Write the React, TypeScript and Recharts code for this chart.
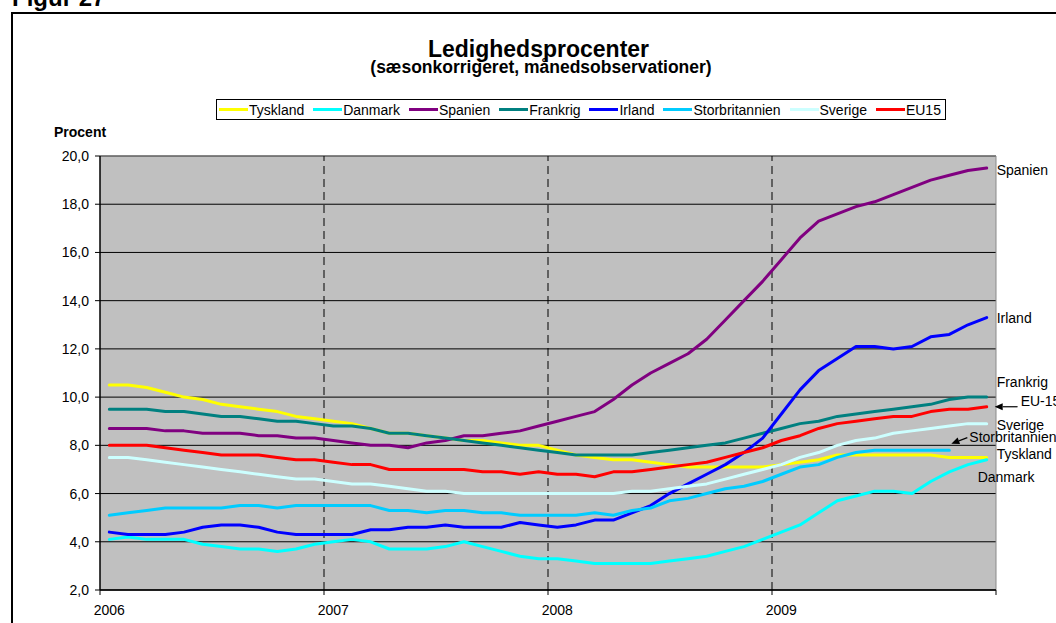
import React from 'react';
import { LineChart, Line, XAxis, YAxis, CartesianGrid, ReferenceLine, ReferenceDot } from 'recharts';

const FONT = '"Liberation Sans", Arial, Helvetica, sans-serif';

const years = ['2006', '2007', '2008', '2009'];
const yTicks = [2, 4, 6, 8, 10, 12, 14, 16, 18, 20];
const yearBoundaries = [0, 12, 24, 36, 48];

const tyskland = [10.5, 10.5, 10.4, 10.2, 10.0, 9.9, 9.7, 9.6, 9.5, 9.4, 9.2, 9.1, 9.0, 8.9, 8.7, 8.5, 8.5, 8.4, 8.3, 8.2, 8.2, 8.1, 8.0, 8.0, 7.8, 7.6, 7.5, 7.4, 7.4, 7.3, 7.2, 7.1, 7.1, 7.1, 7.1, 7.1, 7.2, 7.3, 7.4, 7.6, 7.6, 7.6, 7.6, 7.6, 7.6, 7.5, 7.5, 7.5];
const danmark = [4.1, 4.2, 4.1, 4.1, 4.1, 3.9, 3.8, 3.7, 3.7, 3.6, 3.7, 3.9, 4.0, 4.1, 4.0, 3.7, 3.7, 3.7, 3.8, 4.0, 3.8, 3.6, 3.4, 3.3, 3.3, 3.2, 3.1, 3.1, 3.1, 3.1, 3.2, 3.3, 3.4, 3.6, 3.8, 4.1, 4.4, 4.7, 5.2, 5.7, 5.9, 6.1, 6.1, 6.0, 6.5, 6.9, 7.2, 7.4];
const spanien = [8.7, 8.7, 8.7, 8.6, 8.6, 8.5, 8.5, 8.5, 8.4, 8.4, 8.3, 8.3, 8.2, 8.1, 8.0, 8.0, 7.9, 8.1, 8.2, 8.4, 8.4, 8.5, 8.6, 8.8, 9.0, 9.2, 9.4, 9.9, 10.5, 11.0, 11.4, 11.8, 12.4, 13.2, 14.0, 14.8, 15.7, 16.6, 17.3, 17.6, 17.9, 18.1, 18.4, 18.7, 19.0, 19.2, 19.4, 19.5];
const frankrig = [9.5, 9.5, 9.5, 9.4, 9.4, 9.3, 9.2, 9.2, 9.1, 9.0, 9.0, 8.9, 8.8, 8.8, 8.7, 8.5, 8.5, 8.4, 8.3, 8.2, 8.1, 8.0, 7.9, 7.8, 7.7, 7.6, 7.6, 7.6, 7.6, 7.7, 7.8, 7.9, 8.0, 8.1, 8.3, 8.5, 8.7, 8.9, 9.0, 9.2, 9.3, 9.4, 9.5, 9.6, 9.7, 9.9, 10.0, 10.0];
const irland = [4.4, 4.3, 4.3, 4.3, 4.4, 4.6, 4.7, 4.7, 4.6, 4.4, 4.3, 4.3, 4.3, 4.3, 4.5, 4.5, 4.6, 4.6, 4.7, 4.6, 4.6, 4.6, 4.8, 4.7, 4.6, 4.7, 4.9, 4.9, 5.2, 5.5, 6.0, 6.4, 6.8, 7.2, 7.7, 8.3, 9.3, 10.3, 11.1, 11.6, 12.1, 12.1, 12.0, 12.1, 12.5, 12.6, 13.0, 13.3];
const storbritannien = [5.1, 5.2, 5.3, 5.4, 5.4, 5.4, 5.4, 5.5, 5.5, 5.4, 5.5, 5.5, 5.5, 5.5, 5.5, 5.3, 5.3, 5.2, 5.3, 5.3, 5.2, 5.2, 5.1, 5.1, 5.1, 5.1, 5.2, 5.1, 5.3, 5.4, 5.7, 5.8, 6.0, 6.2, 6.3, 6.5, 6.8, 7.1, 7.2, 7.5, 7.7, 7.8, 7.8, 7.8, 7.8, 7.8, null, null];
const sverige = [7.5, 7.5, 7.4, 7.3, 7.2, 7.1, 7.0, 6.9, 6.8, 6.7, 6.6, 6.6, 6.5, 6.4, 6.4, 6.3, 6.2, 6.1, 6.1, 6.0, 6.0, 6.0, 6.0, 6.0, 6.0, 6.0, 6.0, 6.0, 6.1, 6.1, 6.2, 6.3, 6.4, 6.6, 6.8, 7.0, 7.2, 7.5, 7.7, 8.0, 8.2, 8.3, 8.5, 8.6, 8.7, 8.8, 8.9, 8.9];
const eu15 = [8.0, 8.0, 8.0, 7.9, 7.8, 7.7, 7.6, 7.6, 7.6, 7.5, 7.4, 7.4, 7.3, 7.2, 7.2, 7.0, 7.0, 7.0, 7.0, 7.0, 6.9, 6.9, 6.8, 6.9, 6.8, 6.8, 6.7, 6.9, 6.9, 7.0, 7.1, 7.2, 7.3, 7.5, 7.7, 7.9, 8.2, 8.4, 8.7, 8.9, 9.0, 9.1, 9.2, 9.2, 9.4, 9.5, 9.5, 9.6];

type Series = { key: string; label: string; color: string; values: (number | null)[] };

const series: Series[] = [
  { key: 'tyskland', label: 'Tyskland', color: '#FFFF00', values: tyskland },
  { key: 'danmark', label: 'Danmark', color: '#00FFFF', values: danmark },
  { key: 'spanien', label: 'Spanien', color: '#800080', values: spanien },
  { key: 'frankrig', label: 'Frankrig', color: '#008080', values: frankrig },
  { key: 'irland', label: 'Irland', color: '#0000FF', values: irland },
  { key: 'storbritannien', label: 'Storbritannien', color: '#00CCFF', values: storbritannien },
  { key: 'sverige', label: 'Sverige', color: '#CCFFFF', values: sverige },
  { key: 'eu15', label: 'EU15', color: '#FF0000', values: eu15 },
];

// end-of-line annotations: text, offset from the series' last point, optional arrow
type Note = { key: string; text: string; dx: number; dy: number; arrow?: [number, number, number, number] };
const notes: Note[] = [
  { key: 'spanien', text: 'Spanien', dx: 10, dy: 2 },
  { key: 'irland', text: 'Irland', dx: 10, dy: 0.5 },
  { key: 'frankrig', text: 'Frankrig', dx: 10, dy: -15 },
  { key: 'eu15', text: 'EU-15', dx: 34, dy: -6, arrow: [31, 0, 8, 0] },
  { key: 'sverige', text: 'Sverige', dx: 10, dy: 1.5 },
  { key: 'storbritannien', text: 'Storbritannien', dx: 20, dy: -13, arrow: [18, -12.5, 2, -6.5] },
  { key: 'tyskland', text: 'Tyskland', dx: 10, dy: -3.5 },
  { key: 'danmark', text: 'Danmark', dx: -9, dy: 17.5 },
];

const W = 1056;
const H = 623;
const PLOT_LEFT = 100;
const PLOT_RIGHT = 996;
const PLOT_TOP = 156;
const XAXIS_H = 33;
const SLOTS = tyskland.length;
const HALF_SLOT = (PLOT_RIGHT - PLOT_LEFT) / SLOTS / 2;

const rows = tyskland.map((_, i) => {
  const r: Record<string, number | null> = { x: i + 0.5 };
  series.forEach((s) => {
    r[s.key] = s.values[i];
  });
  return r;
});

const YearTick = (props: any) => {
  const { x, y, payload } = props;
  const idx = Math.round(payload.value / 12);
  if (idx >= years.length) return null;
  return (
    <text x={x + HALF_SLOT} y={y} dy="0.71em" textAnchor="middle" fontFamily={FONT} fontSize={14} fill="#000">
      {years[idx]}
    </text>
  );
};

const lastIndex = (vals: (number | null)[]) => {
  for (let i = vals.length - 1; i >= 0; i--) if (vals[i] != null) return i;
  return 0;
};

const makeNoteShape = (n: Note) => (p: any) => {
  const { cx, cy } = p;
  let arrow = null;
  if (n.arrow) {
    const [x1, y1, x2, y2] = n.arrow;
    const ax = cx + x2;
    const ay = cy + y2;
    const bx = cx + x1;
    const by = cy + y1;
    const ang = Math.atan2(ay - by, ax - bx);
    const L = 8;
    const Wd = 3.5;
    const hx = ax - L * Math.cos(ang);
    const hy = ay - L * Math.sin(ang);
    const px = -Math.sin(ang) * Wd;
    const py = Math.cos(ang) * Wd;
    arrow = (
      <g>
        <line x1={bx} y1={by} x2={hx} y2={hy} stroke="#000" strokeWidth={1.2} />
        <polygon points={`${ax},${ay} ${hx + px},${hy + py} ${hx - px},${hy - py}`} fill="#000" />
      </g>
    );
  }
  return (
    <g>
      {arrow}
      <text x={cx + n.dx} y={cy + n.dy} dy="0.35em" fontFamily={FONT} fontSize={14} fill="#000">
        {n.text}
      </text>
    </g>
  );
};

export default function App() {
  return (
    <div style={{ position: 'absolute', left: 0, top: 0, width: W, height: H, overflow: 'hidden', background: '#fff' }}>
      <div style={{ position: 'absolute', left: 11, top: 12, width: 1200, height: 800, border: '2px solid #000' }} />
      <div style={{ position: 'absolute', left: 0, top: 0 }}>
        <LineChart
          width={W}
          height={H}
          data={rows}
          margin={{ top: PLOT_TOP, right: W - PLOT_RIGHT, bottom: 0, left: 0 }}
        >
          <CartesianGrid vertical={false} stroke="#000" strokeWidth={1} fill="#C0C0C0" fillOpacity={1} />
          <XAxis
            type="number"
            dataKey="x"
            domain={[0, SLOTS]}
            ticks={yearBoundaries}
            interval={0}
            height={XAXIS_H}
            tickSize={5}
            tickMargin={10}
            tick={<YearTick />}
            axisLine={{ stroke: '#000', strokeWidth: 1.5 }}
            tickLine={{ stroke: '#000', strokeWidth: 1 }}
          />
          <YAxis
            type="number"
            domain={[2, 20]}
            ticks={yTicks}
            interval={0}
            width={PLOT_LEFT}
            tickSize={5}
            tickMargin={6}
            tickFormatter={(v: number) => v.toFixed(1).replace('.', ',')}
            tick={{ fontFamily: FONT, fontSize: 14, fill: '#000' }}
            axisLine={{ stroke: '#000', strokeWidth: 1.5 }}
            tickLine={{ stroke: '#000', strokeWidth: 1 }}
          />
          <ReferenceLine y={20} stroke="#8a8a8a" strokeWidth={1} />
          <ReferenceLine x={SLOTS} stroke="#8a8a8a" strokeWidth={1} />
          {yearBoundaries.slice(1, -1).map((b) => (
            <ReferenceLine key={b} x={b} stroke="#000" strokeWidth={1} strokeDasharray="8 5" />
          ))}
          {series.map((s) => (
            <Line
              key={s.key}
              type="linear"
              dataKey={s.key}
              stroke={s.color}
              strokeWidth={3}
              dot={false}
              activeDot={false}
              isAnimationActive={false}
              connectNulls={false}
              strokeLinejoin="round"
              strokeLinecap="round"
            />
          ))}
          {notes.map((n) => {
            const s = series.find((q) => q.key === n.key)!;
            const li = lastIndex(s.values);
            return (
              <ReferenceDot
                key={n.key}
                x={li + 0.5}
                y={s.values[li] as number}
                r={0}
                ifOverflow="visible"
                shape={makeNoteShape(n)}
              />
            );
          })}
        </LineChart>
      </div>
      <svg width={W} height={150} style={{ position: 'absolute', left: 0, top: 0, pointerEvents: 'none' }}>
        <text x={12} y={6} fontFamily={FONT} fontWeight="bold" fontSize={24} fill="#000">Figur 27</text>
        <text x={538.5} y={56.5} textAnchor="middle" fontFamily={FONT} fontWeight="bold" fontSize={23} fill="#000">Ledighedsprocenter</text>
        <text x={541} y={73} textAnchor="middle" fontFamily={FONT} fontWeight="bold" fontSize={17.5} fill="#000">(sæsonkorrigeret, månedsobservationer)</text>
        <text x={54} y={137} fontFamily={FONT} fontWeight="bold" fontSize={14} fill="#000">Procent</text>
      </svg>
      <div
        style={{
          position: 'absolute',
          left: 216,
          top: 99,
          width: 730,
          height: 21,
          boxSizing: 'border-box',
          border: '1px solid #000',
          background: '#fff',
          display: 'flex',
          alignItems: 'center',
          justifyContent: 'space-between',
          padding: '0 4px 0 2px',
          fontFamily: FONT,
          fontSize: 14,
          color: '#000',
          whiteSpace: 'nowrap',
        }}
      >
        {series.map((s) => (
          <div key={s.key} style={{ display: 'flex', alignItems: 'center' }}>
            <span style={{ display: 'inline-block', width: 29, height: 3, background: s.color, marginRight: 1 }} />
            <span>{s.label}</span>
          </div>
        ))}
      </div>
    </div>
  );
}
